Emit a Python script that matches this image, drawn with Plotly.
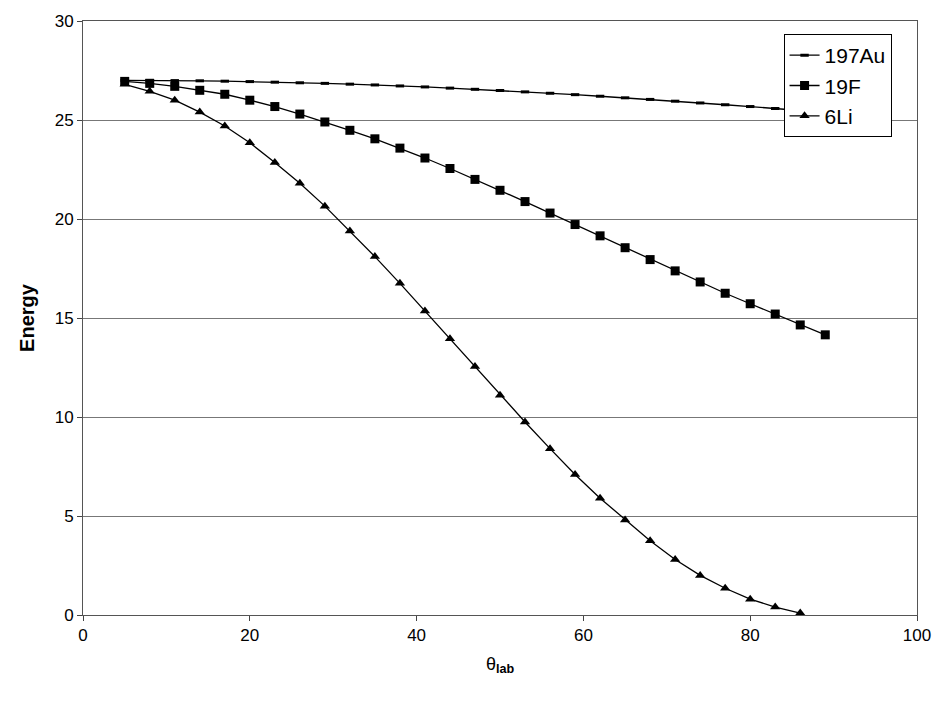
import plotly.graph_objects as go

theta = list(range(5, 90, 3))  # 5, 8, ..., 89
theta_li = list(range(5, 87, 3))  # 5 ... 86

au = [27.0, 27.0, 26.99, 26.98, 26.96, 26.94, 26.91, 26.88, 26.85, 26.81, 26.77,
      26.72, 26.67, 26.61, 26.55, 26.49, 26.42, 26.35, 26.28, 26.2, 26.12, 26.04,
      25.95, 25.86, 25.77, 25.68, 25.58, 25.48, 25.38]
f19 = [26.95, 26.85, 26.7, 26.5, 26.3, 26.0, 25.68, 25.3, 24.9, 24.48, 24.05,
       23.58, 23.08, 22.55, 22.0, 21.45, 20.88, 20.3, 19.72, 19.15, 18.55, 17.95,
       17.38, 16.82, 16.25, 15.72, 15.2, 14.65, 14.15]
li6 = [26.8, 26.45, 26.0, 25.4, 24.7, 23.85, 22.85, 21.8, 20.65, 19.4, 18.1,
       16.75, 15.35, 13.95, 12.55, 11.1, 9.75, 8.4, 7.1, 5.9, 4.8, 3.75, 2.8,
       2.0, 1.35, 0.8, 0.4, 0.1]

fig = go.Figure()
fig.add_trace(go.Scatter(x=theta, y=au, name="197Au", mode="lines+markers",
                         line=dict(color="black", width=1.3),
                         marker=dict(symbol="line-ew", size=6, line=dict(color="black", width=3))))
fig.add_trace(go.Scatter(x=theta, y=f19, name="19F", mode="lines+markers",
                         line=dict(color="black", width=1.3),
                         marker=dict(symbol="square", size=9, color="black")))
fig.add_trace(go.Scatter(x=theta_li, y=li6, name="6Li", mode="lines+markers",
                         line=dict(color="black", width=1.3),
                         marker=dict(symbol="triangle-up", size=9, color="black")))

# page body has an 8px default margin, so offsets are reduced by 8
fig.update_layout(
    width=941, height=709,
    margin=dict(l=75, r=32, t=13, b=102),
    plot_bgcolor="white", paper_bgcolor="white",
    font=dict(family="Liberation Sans, Arial", size=17, color="black"),
    legend=dict(x=0.84, y=0.978, xanchor="left", yanchor="top",
                bordercolor="black", borderwidth=1, bgcolor="white",
                font=dict(size=21), tracegroupgap=0, itemwidth=30),
)
fig.update_xaxes(range=[0, 100], dtick=20, showgrid=False, ticks="outside",
                 ticklen=5, linecolor="#555", mirror=True, zeroline=False,
                 automargin=False,
                 title=dict(text="θ<sub><b>lab</b></sub>", standoff=12, font=dict(size=18)))
fig.update_yaxes(range=[0, 30], dtick=5, showgrid=True, gridcolor="#777",
                 gridwidth=1, ticks="outside", ticklen=5, linecolor="#555",
                 mirror=True, zeroline=False, automargin=False,
                 title=dict(text="<b>Energy</b>", standoff=14))

fig.write_html("out.html")
